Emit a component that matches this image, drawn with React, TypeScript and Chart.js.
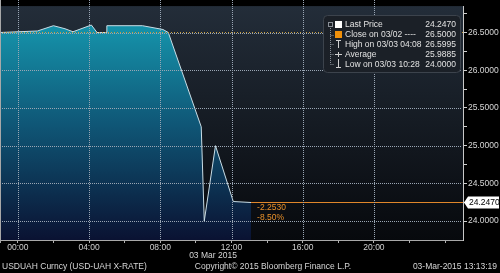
import { useEffect, useRef } from 'react';
import { Chart, registerables } from 'chart.js';

Chart.register(...registerables);

// ---- data (hours of 03 Mar 2015, USD/UAH price) ----
const hours = [-1, 1.1, 2.0, 2.65, 3.1, 4.13, 4.45, 5.0, 5.0, 7.0, 8.15, 8.45, 10.3, 10.47, 11.1, 12.1, 13.1];
const prices = [26.5, 26.52, 26.59, 26.55, 26.51, 26.5995, 26.5, 26.5, 26.59, 26.59, 26.54, 26.5, 25.25, 24.0, 25.0, 24.26, 24.247];
const xTickHours = [0, 2, 4, 6, 8, 10, 12, 14, 16, 18, 20, 22, 24];
const yTickValues = [24, 24.25, 24.5, 24.75, 25, 25.25, 25.5, 25.75, 26, 26.25, 26.5, 26.75];
const majorXHours = [0, 4, 8, 12, 16, 20];
const majorYValues = [24, 24.5, 25, 25.5, 26, 26.5];
const lastPrice = 24.247;
const prevClose = 26.5;
const changeTexts = ['-2.2530', '-8.50%'];
const legendLabels = ['Last Price', 'Close on 03/02 ----', 'High on 03/03 04:08', 'Average', 'Low on 03/03 10:28'];
const legendValues = ['24.2470', '26.5000', '26.5995', '25.9885', '24.0000'];
const dateLabel = '03 Mar 2015';
const footerLeft = 'USDUAH Curncy (USD-UAH X-RATE)';
const footerCenter = 'Copyright\u00A9 2015 Bloomberg Finance L.P.';
const footerRight = '03-Mar-2015 13:13:19';

const FONT = '"Liberation Sans", Arial, sans-serif';
const GRID = '#9aa6b4';

const isMajorY = (v: number) => Math.abs(v * 2 - Math.round(v * 2)) < 1e-6;
const isMajorX = (v: number) => Math.abs(v % 4) < 1e-6 && v < 24;

const bgPlugin = {
  id: 'bbgBackground',
  beforeDraw(chart: any) {
    const { ctx, chartArea: a, width, height } = chart;
    ctx.save();
    ctx.fillStyle = '#000000';
    ctx.fillRect(0, 0, width, height);
    const g = ctx.createLinearGradient(0, a.top, 0, a.bottom);
    g.addColorStop(0, '#232d39');
    g.addColorStop(1, '#07090d');
    ctx.fillStyle = g;
    ctx.fillRect(a.left, a.top, a.right - a.left, a.bottom - a.top);
    ctx.restore();
  },
};

const overlayPlugin = {
  id: 'bbgOverlay',
  afterDraw(chart: any) {
    const ctx = chart.ctx;
    const x = chart.scales.x;
    const y = chart.scales.y;
    const left = 0;
    const top = 0;
    const right = x.getPixelForValue(x.max);
    const bottom = y.getPixelForValue(y.min);

    ctx.save();
    ctx.globalAlpha = 1;
    ctx.globalCompositeOperation = 'source-over';

    // dotted grid, drawn as single-pixel dots on top of the area fill
    ctx.fillStyle = GRID;
    for (let i = 0; i < majorXHours.length; i++) {
      const px = Math.round(x.getPixelForValue(majorXHours[i]));
      for (let py = top; py < bottom; py += 2) ctx.fillRect(px, py, 1, 1);
    }
    for (let j = 0; j < majorYValues.length; j++) {
      const py = Math.round(y.getPixelForValue(majorYValues[j]));
      for (let px = left; px < right - 1; px += 2) ctx.fillRect(px, py, 1, 1);
    }
    ctx.fillStyle = '#a8a8a8';
    ctx.fillRect(left, top, 1, bottom - top + 3);

    ctx.textBaseline = 'middle';

    // footer
    ctx.font = `8.5px ${FONT}`;
    ctx.fillStyle = '#d6d6d6';
    ctx.textAlign = 'left';
    ctx.fillText(footerLeft, 2, 267);
    ctx.textAlign = 'center';
    ctx.fillText(footerCenter, 273, 267);
    ctx.textAlign = 'right';
    ctx.fillText(footerRight, 497, 267);
    ctx.textAlign = 'center';
    ctx.fillText(dateLabel, 213, 256);

    // change texts
    const lastX = x.getPixelForValue(hours[hours.length - 1]);
    const lastY = y.getPixelForValue(lastPrice);
    ctx.fillStyle = '#e8902a';
    ctx.textAlign = 'left';
    ctx.fillText(changeTexts[0], lastX + 6, lastY + 5);
    ctx.fillText(changeTexts[1], lastX + 6, lastY + 15);

    // last price tag
    const tx = right;
    ctx.fillStyle = '#ffffff';
    ctx.beginPath();
    ctx.moveTo(tx + 1, lastY);
    ctx.lineTo(tx + 5, lastY - 6);
    ctx.lineTo(499, lastY - 6);
    ctx.lineTo(499, lastY + 6);
    ctx.lineTo(tx + 5, lastY + 6);
    ctx.closePath();
    ctx.fill();
    ctx.fillStyle = '#000000';
    ctx.font = `8.5px ${FONT}`;
    ctx.fillText(legendValues[0], tx + 6, lastY + 0.5);

    // legend box
    ctx.fillStyle = '#1b2027';
    ctx.strokeStyle = '#3c434c';
    ctx.lineWidth = 1;
    ctx.beginPath();
    (ctx as any).roundRect(323.5, 15.5, 137, 57, 4);
    ctx.fill();
    ctx.stroke();

    const rowY = [25, 34.5, 44.3, 54.3, 64.3];
    // tree lines
    ctx.strokeStyle = '#8a9098';
    ctx.setLineDash([1, 1]);
    ctx.beginPath();
    ctx.moveTo(330.5, 28);
    ctx.lineTo(330.5, rowY[4]);
    for (let i = 1; i < rowY.length; i++) {
      ctx.moveTo(330.5, Math.round(rowY[i]) + 0.5);
      ctx.lineTo(334, Math.round(rowY[i]) + 0.5);
    }
    ctx.stroke();
    ctx.setLineDash([]);
    ctx.strokeRect(328.5, 22.5, 4, 4);

    // icons
    ctx.fillStyle = '#ffffff';
    ctx.fillRect(335, 21, 7, 7);
    ctx.fillStyle = '#f0900a';
    ctx.fillRect(335, 31, 7, 7);
    ctx.strokeStyle = '#d0d0d0';
    ctx.beginPath();
    ctx.moveTo(336, 40.5); ctx.lineTo(341, 40.5);
    ctx.moveTo(338.5, 40.5); ctx.lineTo(338.5, 48);
    ctx.moveTo(335, 54.5); ctx.lineTo(342, 54.5);
    ctx.moveTo(338.5, 52); ctx.lineTo(338.5, 57);
    ctx.moveTo(338.5, 59); ctx.lineTo(338.5, 67.5);
    ctx.moveTo(336, 67.5); ctx.lineTo(341, 67.5);
    ctx.stroke();

    ctx.font = `8.5px ${FONT}`;
    ctx.fillStyle = '#e2e2e2';
    for (let i = 0; i < legendLabels.length; i++) {
      ctx.textAlign = 'left';
      ctx.fillText(legendLabels[i], 345, rowY[i]);
      ctx.textAlign = 'right';
      ctx.fillText(legendValues[i], 456, rowY[i]);
    }
    ctx.restore();
  },
};

export default function App() {
  const ref = useRef<HTMLCanvasElement | null>(null);

  useEffect(() => {
    document.body.style.margin = '0';
    document.body.style.background = '#000';
    const canvas = ref.current;
    if (!canvas) return;
    const xMin = -1;
    const xMax = 25;
    const chart = new Chart(canvas, {
      type: 'line',
      data: {
        datasets: [
          {
            label: 'Last Price',
            data: hours.map((h, i) => ({ x: h, y: prices[i] })),
            borderColor: '#c9dde6',
            borderWidth: 1,
            pointRadius: 0,
            tension: 0,
            fill: 'start',
            backgroundColor: (c: any) => {
              const a = c.chart.chartArea;
              if (!a) return 'rgba(20,140,165,0.8)';
              const g = c.chart.ctx.createLinearGradient(0, a.top + 25, 0, a.bottom);
              g.addColorStop(0, '#1590a8');
              g.addColorStop(0.45, '#0f5676');
              g.addColorStop(1, '#0a1232');
              return g;
            },
            order: 3,
          },
          {
            label: 'Close',
            data: [{ x: xMin, y: prevClose }, { x: xMax, y: prevClose }],
            borderColor: '#c9a040',
            borderWidth: 1,
            borderDash: [1, 2],
            pointRadius: 0,
            fill: false,
            order: 1,
          },
          {
            label: 'Last',
            data: [{ x: hours[hours.length - 1], y: lastPrice }, { x: xMax, y: lastPrice }],
            borderColor: '#e0862a',
            borderWidth: 1,
            pointRadius: 0,
            fill: false,
            order: 2,
          },
        ],
      },
      options: {
        responsive: false,
        animation: false,
        events: [],
        layout: { padding: 0 },
        plugins: { legend: { display: false }, tooltip: { enabled: false } },
        scales: {
          x: {
            type: 'linear',
            min: xMin,
            max: xMax,
            afterBuildTicks: (s: any) => {
              s.ticks = xTickHours.map((v) => ({ value: v }));
            },
            afterFit: (s: any) => {
              s.height = 33;
            },
            ticks: {
              autoSkip: false,
              maxRotation: 0,
              padding: 0,
              color: '#d0d0d0',
              font: { family: FONT, size: 8.5 },
              callback: (v: any) => (isMajorX(Number(v)) ? String(v).padStart(2, '0') + ':00' : ''),
            },
            grid: {
              drawOnChartArea: false,
              color: '#b0b0b0',
              tickColor: '#b0b0b0',
              tickLength: 3,
              lineWidth: 1,
            },
            border: { color: '#a8a8a8', width: 1 },
          },
          y: {
            type: 'linear',
            position: 'right',
            min: 23.75,
            max: 26.85,
            afterBuildTicks: (s: any) => {
              s.ticks = yTickValues.map((v) => ({ value: v }));
            },
            afterFit: (s: any) => {
              s.width = 37;
            },
            ticks: {
              autoSkip: false,
              padding: 1,
              color: '#d8d8d8',
              font: { family: FONT, size: 8.5 },
              callback: (v: any) => (isMajorY(Number(v)) ? Number(v).toFixed(4) : ''),
            },
            grid: {
              drawOnChartArea: false,
              color: '#d0d0d0',
              tickColor: '#d0d0d0',
              tickLength: 4,
              lineWidth: 1,
            },
            border: { color: '#c8c8c8', width: 1 },
          },
        },
      },
      plugins: [bgPlugin, overlayPlugin],
    } as any);
    return () => chart.destroy();
  }, []);

  return (
    <canvas
      ref={ref}
      width={500}
      height={273}
      style={{ display: 'block', width: 500, height: 273 }}
    />
  );
}
